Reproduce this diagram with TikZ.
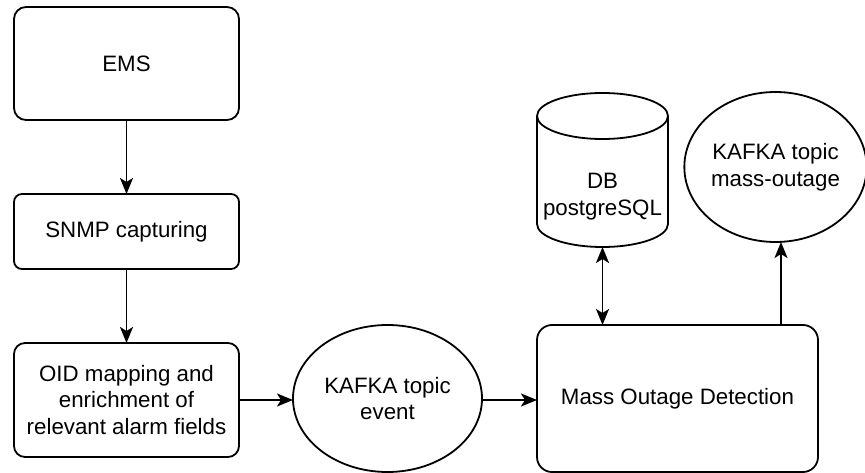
\documentclass[tikz,border=0pt]{standalone}
\usepackage{fontspec}
\setmainfont{Liberation Sans}
\usetikzlibrary{shapes.geometric,arrows.meta}
\begin{document}
\begin{tikzpicture}[x=1pt,y=-1pt,
  every node/.style={font=\fontsize{22.3}{26.8}\selectfont, align=center, inner sep=0pt, outer sep=0pt},
  ln/.style={line width=1.8pt, draw=black},
  box/.style={ln, rounded corners=#1},
  oval/.style={ln, ellipse},
  tip/.tip={Stealth[length=16pt,width=13pt,inset=4pt]},
  arr/.style={draw=black, line width=1.9pt, -tip},
  darr/.style={draw=black, line width=1.9pt, tip-tip}
]
\fill[white] (0,0) rectangle (865,473);
\useasboundingbox (0,0) rectangle (865,473);

\node[box=12pt, minimum width=225pt, minimum height=113pt] (ems) at (126.5,63.5) {EMS};
\node[box=8pt, minimum width=225pt, minimum height=75pt] (snmp) at (126.5,231.5) {SNMP capturing};
\node[box=11pt, minimum width=225pt, minimum height=114pt] (oid) at (126.5,400) {OID mapping and\\enrichment of\\relevant alarm fields};
\node[oval, minimum width=189pt, minimum height=147pt] (event) at (387.5,398.5) {KAFKA topic\\event};
\node[box=15pt, minimum width=281pt, minimum height=147pt] (mass) at (677.5,398.5) {Mass Outage Detection};
\node[oval, minimum width=177pt, minimum height=150pt] (moq) at (775.5,167) {KAFKA topic\\mass-outage};

% database cylinder
\node[minimum width=131pt, minimum height=154pt] (db) at (602.5,170) {};
\draw[ln] (537,116) -- (537,224) arc[start angle=180, end angle=360, x radius=65.5pt, y radius=23pt]
  -- (668,116) arc[start angle=0, end angle=180, x radius=65.5pt, y radius=23pt] -- cycle;
\draw[ln] (537,116) arc[start angle=180, end angle=360, x radius=65.5pt, y radius=23pt];
\node (dbtext) at (602.5,197) {DB\\postgreSQL};

\draw[arr] (ems) -- (snmp);
\draw[arr] (snmp) -- (oid);
\draw[arr] (oid.east) -- (oid.east -| event.west);
\draw[arr] (event.east |- oid.east) -- (oid.east -| mass.west);
\draw[darr] (db.south) -- (db.south |- mass.north);
\coordinate (mo) at ([xshift=5.5pt]moq.south);
\draw[arr] (mo |- mass.north) -- (mo);
\end{tikzpicture}
\end{document}
